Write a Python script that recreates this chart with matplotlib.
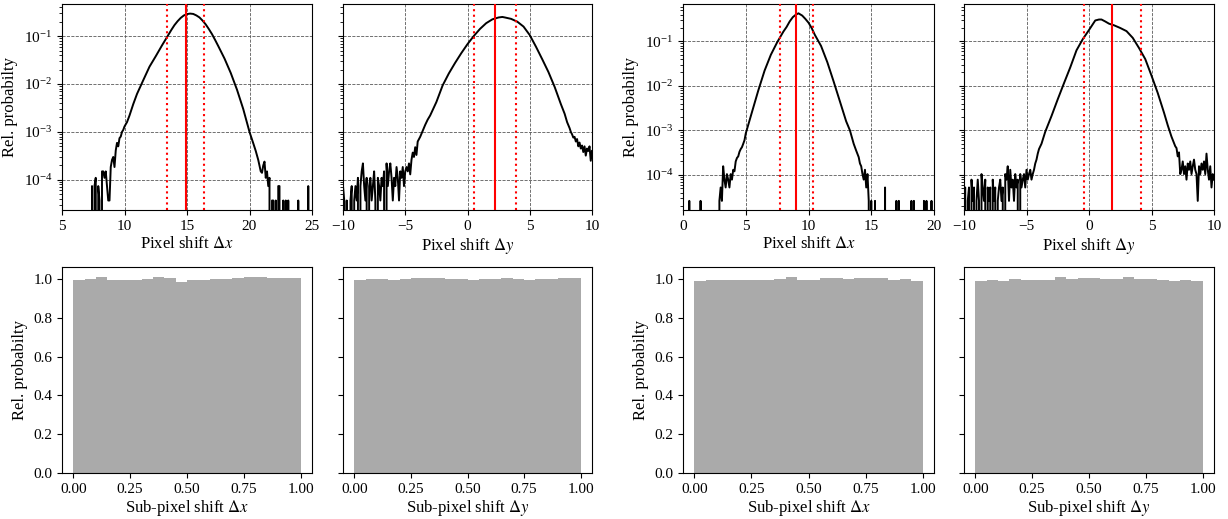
import numpy as np
import matplotlib
matplotlib.use("Agg")
import matplotlib.pyplot as plt

plt.rcParams.update({
    "font.family": "serif",
    "font.serif": ["Liberation Serif", "DejaVu Serif"],
    "mathtext.fontset": "stix",
    "font.size": 11,
})

# ---------------- data: top row (pixel shift histograms) ----------------
dx1_x = [7.3, 7.4, 7.5, 7.6, 7.7, 7.8, 7.9, 8.0, 8.1, 8.2, 8.3, 8.4, 8.5, 8.6, 8.7, 8.8, 8.9,
         9.0, 9.1, 9.2, 9.3, 9.4, 9.5, 9.6, 9.7, 9.8, 9.9, 10.0, 10.2, 10.4, 10.7, 11.0, 11.5,
         12.0, 12.5, 13.0, 13.5, 13.75, 14.0, 14.25, 14.5, 14.75, 15.0, 15.25, 15.5, 15.75,
         16.0, 16.25, 16.5, 16.75, 17.0, 17.25, 17.5, 18.0, 18.5, 19.0, 19.5, 20.0, 20.3, 20.5,
         20.7, 20.9, 21.0, 21.1, 21.2, 21.3, 21.4, 21.5, 21.6, 21.7, 21.8, 21.9, 22.0, 22.1,
         22.2, 22.3, 22.4, 22.5, 22.6, 22.7, 22.8, 22.9, 23.0, 23.1, 23.2, 23.8, 23.9, 24.0,
         24.6, 24.7, 24.8, 25.0]
dx1_y = [0, 7.4e-5, 0, 7.4e-5, 1.1e-4, 0, 7.4e-5, 3.7e-5, 0, 1.5e-4, 1.5e-4, 1.1e-4, 1.5e-4,
         7.4e-5, 3.7e-5, 3.7e-5, 1.85e-4,
         2.6e-4, 3.0e-4, 1.85e-4, 4.1e-4, 5.9e-4, 5.0e-4, 7.4e-4, 8.0e-4, 1.0e-3, 1.1e-3,
         1.3e-3, 1.6e-3, 2.2e-3, 3.8e-3, 6.2e-3, 1.2e-2,
         2.3e-2, 3.8e-2, 6.4e-2, 0.105, 0.135, 0.17, 0.205, 0.24, 0.27, 0.288, 0.295, 0.29, 0.27,
         0.245, 0.21, 0.175, 0.14, 0.11, 0.083, 0.062, 0.034, 0.017, 7.6e-3, 3.0e-3, 1.0e-3,
         5.8e-4, 4.0e-4,
         2.6e-4, 1.5e-4, 1.4e-4, 2.0e-4, 2.4e-4, 1.1e-4, 1.5e-4, 7.4e-5, 1.1e-4, 0, 3.7e-5, 3.7e-5,
         0, 3.7e-5,
         0, 7.4e-5, 7.4e-5, 0, 0, 3.7e-5, 0, 3.7e-5, 0, 3.7e-5, 0, 0, 3.7e-5, 0,
         0, 7.4e-5, 0, 0]

dy1_x = [-10.0, -9.9, -9.8, -9.7, -9.6, -9.5, -9.4, -9.3, -9.2, -9.1, -9.0, -8.9, -8.8, -8.7,
         -8.6, -8.5, -8.4, -8.3, -8.2, -8.1, -8.0, -7.9, -7.8, -7.7, -7.6, -7.5, -7.4, -7.3,
         -7.2, -7.1, -7.0, -6.9, -6.8, -6.7, -6.6, -6.5, -6.4, -6.3, -6.2, -6.1, -6.0, -5.9,
         -5.8, -5.7, -5.6, -5.5, -5.4, -5.3, -5.2, -5.1, -5.0, -4.9, -4.8, -4.7, -4.6, -4.5,
         -4.4, -4.3, -4.2, -4.1, -4.0, -3.8, -3.6, -3.4, -3.2, -3.0, -2.5, -2.0, -1.5, -1.0,
         -0.5, 0.0, 0.5, 1.0, 1.5, 2.0, 2.5, 2.8, 3.0, 3.5, 4.0, 4.5, 5.0, 5.5, 6.0, 6.5, 7.0,
         7.5, 7.8, 8.0, 8.2, 8.3, 8.4, 8.5, 8.6, 8.7, 8.8, 8.9, 9.0, 9.1, 9.2, 9.3, 9.4, 9.5,
         9.6, 9.7, 9.8, 9.9, 10.0]
dy1_y = [7.4e-5, 3.7e-5, 0, 3.7e-5, 0, 0, 3.7e-5, 7.4e-5, 0, 3.7e-5, 7.4e-5, 3.7e-5, 1.1e-4, 0,
         7.4e-5, 1.5e-4, 2.2e-4, 7.4e-5, 3.7e-5, 1.1e-4, 0, 7.4e-5, 1.1e-4, 3.7e-5, 7.4e-5,
         1.5e-4, 3.7e-5, 0,
         1.1e-4, 7.4e-5, 3.7e-5, 1.1e-4, 7.4e-5, 1.5e-4, 0, 2.2e-4, 7.4e-5, 1.5e-4, 2.2e-4,
         1.1e-4, 3.7e-5, 1.1e-4,
         7.4e-5, 1.85e-4, 1.1e-4, 3.7e-5, 1.5e-4, 1.1e-4, 1.85e-4, 7.4e-5, 1.5e-4, 1.85e-4,
         1.5e-4, 2.2e-4, 1.3e-4, 2.6e-4,
         3.7e-4, 3.0e-4, 4.8e-4, 3.3e-4, 6.3e-4, 7.9e-4, 1.05e-3, 1.4e-3, 1.8e-3, 2.2e-3,
         4.2e-3, 9.3e-3, 1.66e-2, 2.75e-2,
         4.4e-2, 6.8e-2, 0.1, 0.141, 0.186, 0.224, 0.245, 0.251, 0.245, 0.229, 0.2, 0.158,
         0.105, 0.06, 0.033, 0.0178, 8.7e-3,
         3.8e-3, 2.4e-3, 1.6e-3, 1.2e-3, 1.0e-3, 8.9e-4, 7.6e-4, 7.9e-4, 6.3e-4, 7.1e-4, 5.0e-4,
         6.0e-4, 4.5e-4, 5.2e-4, 3.8e-4, 5.0e-4, 3.2e-4,
         4.5e-4, 4.0e-4, 5.0e-4, 2.5e-4, 4.0e-4]

dx2_x = [0.4, 0.5, 0.6, 1.3, 1.4, 1.5, 2.8, 2.9, 3.0, 3.1, 3.2, 3.3, 3.4, 3.5, 3.6, 3.7, 3.8,
         3.9, 4.0, 4.1, 4.2, 4.3, 4.4, 4.5, 4.6, 4.7, 4.8, 4.9, 5.0, 5.5, 6.0, 6.5, 7.0, 7.5,
         8.0, 8.25, 8.5, 8.75, 9.0, 9.2, 9.5, 9.75, 10.0, 10.25, 10.5, 11.0, 11.5, 12.0, 12.5,
         13.0, 13.3, 13.6, 13.8, 14.0, 14.1, 14.2, 14.3, 14.4, 14.5, 14.6, 14.7, 14.8, 14.9,
         15.0, 15.1, 15.2, 15.3, 15.4, 16.0, 16.1, 16.2, 16.9, 17.0, 17.1, 17.2, 17.3, 18.1,
         18.2, 18.3, 18.4, 18.5, 19.1, 19.2, 19.3, 19.4, 19.5, 19.7, 19.8, 19.9, 20.0]
dx2_y = [0, 2.6e-5, 0, 0, 2.6e-5, 0, 0, 2.6e-5, 5.2e-5, 2.6e-5, 1.56e-4, 7.8e-5, 5.2e-5,
         1.04e-4, 7.8e-5, 5.2e-5, 1.04e-4,
         7.8e-5, 1.3e-4, 1.2e-4, 2.0e-4, 2.4e-4, 2.6e-4, 3.3e-4, 3.8e-4, 4.2e-4, 5.0e-4, 6.0e-4,
         8.5e-4, 2.6e-3, 7.9e-3, 2.2e-2, 5.0e-2, 9.5e-2,
         0.166, 0.21, 0.28, 0.35, 0.4, 0.427, 0.38, 0.32, 0.263, 0.2, 0.141, 0.079, 3.4e-2,
         1.26e-2, 4.5e-3,
         1.6e-3, 1.0e-3, 5.0e-4, 3.5e-4, 2.5e-4, 1.8e-4, 1.56e-4, 1.04e-4, 7.8e-5, 1.3e-4,
         5.2e-5, 1.04e-4, 2.6e-5, 0,
         2.6e-5, 0, 0, 2.6e-5, 0, 0, 5.2e-5, 0, 0, 2.6e-5, 0, 2.6e-5, 0, 0,
         2.6e-5, 0, 2.6e-5, 0, 0, 2.6e-5, 0, 2.6e-5, 0, 0, 2.6e-5, 0, 0]

dy2_x = [-10.0, -9.9, -9.8, -9.7, -9.6, -9.5, -9.4, -9.3, -9.2, -9.1, -9.0, -8.9, -8.8, -8.7,
         -8.6, -8.5, -8.4, -8.3, -8.2, -8.1, -8.0, -7.9, -7.8, -7.7, -7.6, -7.5, -7.4, -7.3,
         -7.2, -7.1, -7.0, -6.9, -6.8, -6.7, -6.6, -6.5, -6.4, -6.3, -6.2, -6.1, -6.0, -5.9,
         -5.8, -5.7, -5.6, -5.5, -5.4, -5.3, -5.2, -5.1, -5.0, -4.9, -4.8, -4.7, -4.6, -4.5,
         -4.4, -4.3, -4.2, -4.1, -4.0, -3.8, -3.5, -3.0, -2.5, -2.0, -1.5, -1.0, -0.5, 0.0,
         0.5, 0.8, 1.0, 1.3, 1.6, 2.0, 2.5, 3.0, 3.5, 4.0, 4.5, 5.0, 5.5, 6.0, 6.3, 6.6, 6.9,
         7.0, 7.1, 7.2, 7.3, 7.4, 7.5, 7.6, 7.7, 7.8, 7.9, 8.0, 8.1, 8.2, 8.3, 8.4, 8.5, 8.6,
         8.7, 8.8, 8.9, 9.0, 9.1, 9.2, 9.3, 9.4, 9.5, 9.6, 9.7, 9.8, 9.9, 10.0]
dy2_y = [5.2e-5, 5.2e-5, 0, 2.6e-5, 5.2e-5, 0, 7.8e-5, 2.6e-5, 5.2e-5, 0, 2.6e-5, 7.8e-5,
         2.6e-5, 0,
         1.04e-4, 5.2e-5, 2.6e-5, 7.8e-5, 0, 5.2e-5, 2.6e-5, 5.2e-5, 0, 7.8e-5, 2.6e-5, 5.2e-5,
         0, 2.6e-5,
         5.2e-5, 7.8e-5, 2.6e-5, 5.2e-5, 0, 1.04e-4, 7.8e-5, 1.56e-4, 2.6e-5, 1.3e-4, 5.2e-5,
         7.8e-5, 2.6e-5, 1.04e-4,
         5.2e-5, 7.8e-5, 0, 1.04e-4, 5.2e-5, 7.8e-5, 1.04e-4, 5.2e-5, 1.3e-4, 7.8e-5, 1.04e-4,
         1.3e-4, 7.8e-5, 1.04e-4,
         1.3e-4, 1.8e-4, 2.2e-4, 3.0e-4, 3.8e-4, 5.0e-4, 9.3e-4, 2.1e-3, 5.0e-3, 1.15e-2,
         2.6e-2, 6.3e-2, 0.112, 0.18,
         0.295, 0.31, 0.31, 0.28, 0.25, 0.23, 0.2, 0.17, 0.12, 0.071, 0.04, 0.017, 6.9e-3,
         2.5e-3, 1.3e-3, 7.2e-4, 4.4e-4,
         4.0e-4, 2.6e-4, 3.2e-4, 1.04e-4, 1.3e-4, 2.0e-4, 1.04e-4, 1.56e-4, 7.8e-5, 1.8e-4,
         1.3e-4, 2.0e-4, 1.04e-4, 1.56e-4, 2.2e-4, 1.3e-4, 1.04e-4,
         2.6e-5, 1.56e-4, 1.04e-4, 1.8e-4, 1.3e-4, 2.0e-4, 1.04e-4, 3.0e-4, 1.3e-4, 7.8e-5,
         1.56e-4, 5.2e-5, 1.04e-4, 7.8e-5]

# mean (solid) and mean +/- sigma (dotted) markers
dx1_lines = [14.9, 13.4, 16.4]
dy1_lines = [2.2, 0.5, 3.9]
dx2_lines = [9.02, 7.72, 10.33]
dy2_lines = [1.86, -0.42, 4.19]

dx1_xlim = (5, 25)
dy1_xlim = (-10, 10)
dx2_xlim = (0, 20)
dy2_xlim = (-10, 10)

# ---------------- data: bottom row (sub-pixel shift histograms) ----------------
sub_edges = [0.0, 0.05, 0.1, 0.15, 0.2, 0.25, 0.3, 0.35, 0.4, 0.45, 0.5,
             0.55, 0.6, 0.65, 0.7, 0.75, 0.8, 0.85, 0.9, 0.95, 1.0]
sub_dx1 = [0.998, 1.003, 1.009, 0.997, 0.995, 0.995, 1.003, 1.009, 1.005, 0.985,
           0.995, 0.998, 1.003, 1.000, 1.005, 1.009, 1.009, 1.005, 1.005, 1.005]
sub_dy1 = [0.995, 1.000, 1.003, 0.998, 1.000, 1.005, 1.008, 1.004, 1.000, 1.002,
           0.998, 1.000, 1.003, 1.005, 1.000, 0.998, 1.002, 1.000, 1.004, 1.008]
sub_dx2 = [0.993, 0.997, 0.998, 0.998, 0.998, 0.998, 0.998, 1.003, 1.012, 0.998,
           0.997, 1.005, 1.007, 1.003, 1.007, 1.007, 1.005, 0.998, 1.002, 0.993]
sub_dy2 = [0.993, 0.997, 0.993, 1.000, 0.997, 0.997, 0.998, 1.010, 1.003, 1.007,
           1.007, 1.003, 1.003, 1.012, 1.000, 1.000, 0.998, 0.993, 0.997, 0.993]

ylabel = "Rel. probabilty"
top_xlabels = [r"Pixel shift $\Delta x$", r"Pixel shift $\Delta y$",
               r"Pixel shift $\Delta x$", r"Pixel shift $\Delta y$"]
bot_xlabels = [r"Sub-pixel shift $\Delta x$", r"Sub-pixel shift $\Delta y$",
               r"Sub-pixel shift $\Delta x$", r"Sub-pixel shift $\Delta y$"]

fig = plt.figure(figsize=(12.28, 5.19), dpi=100)
W, H = 1228.0, 519.0
cols = [(62, 312), (343, 592), (683, 934), (964, 1214)]
top_rows = (4, 210)
bot_rows = (267, 473)


def make_ax(c, r, sharey=None):
    x0, x1 = c
    y0, y1 = r
    return fig.add_axes([x0 / W, 1 - y1 / H, (x1 - x0) / W, (y1 - y0) / H], sharey=sharey)


top_data = [(dx1_x, dx1_y, dx1_lines, dx1_xlim), (dy1_x, dy1_y, dy1_lines, dy1_xlim),
            (dx2_x, dx2_y, dx2_lines, dx2_xlim), (dy2_x, dy2_y, dy2_lines, dy2_xlim)]
top_ylims = [(10 ** -4.63, 10 ** -0.33), (10 ** -4.79, 10 ** -0.16)]

top_axes = []
for i, (xs, ys, lines, xlim) in enumerate(top_data):
    share = top_axes[i - 1] if i % 2 == 1 else None
    ax = make_ax(cols[i], top_rows, sharey=share)
    ax.set_yscale("log", nonpositive="clip")
    ax.plot(xs, ys, color="black", lw=1.4, zorder=3)
    ax.axvline(lines[0], color="red", lw=1.5, zorder=4)
    ax.axvline(lines[1], color="red", lw=1.5, ls=":", zorder=4)
    ax.axvline(lines[2], color="red", lw=1.5, ls=":", zorder=4)
    ax.set_xlim(*xlim)
    ax.set_ylim(*top_ylims[i // 2])
    ax.grid(True, which="major", ls="--", color="0.35", lw=0.6)
    ax.set_xlabel(top_xlabels[i], fontsize=12, labelpad=2)
    if i % 2 == 0:
        ax.set_ylabel(ylabel, fontsize=12)
    else:
        ax.tick_params(labelleft=False)
    top_axes.append(ax)

bot_data = [sub_dx1, sub_dy1, sub_dx2, sub_dy2]
bot_axes = []
for i, vals in enumerate(bot_data):
    share = bot_axes[i - 1] if i % 2 == 1 else None
    ax = make_ax(cols[i], bot_rows, sharey=share)
    ax.stairs(vals, sub_edges, fill=True, color="#aaaaaa", linewidth=0)
    ax.set_xlim(-0.05, 1.05)
    ax.set_ylim(0, 1.063)
    ax.set_xticks([0.0, 0.25, 0.5, 0.75, 1.0])
    ax.set_xlabel(bot_xlabels[i], fontsize=12, labelpad=2)
    if i % 2 == 0:
        ax.set_ylabel(ylabel, fontsize=12)
    else:
        ax.tick_params(labelleft=False)
    bot_axes.append(ax)

fig.savefig("out.png", dpi=100)
